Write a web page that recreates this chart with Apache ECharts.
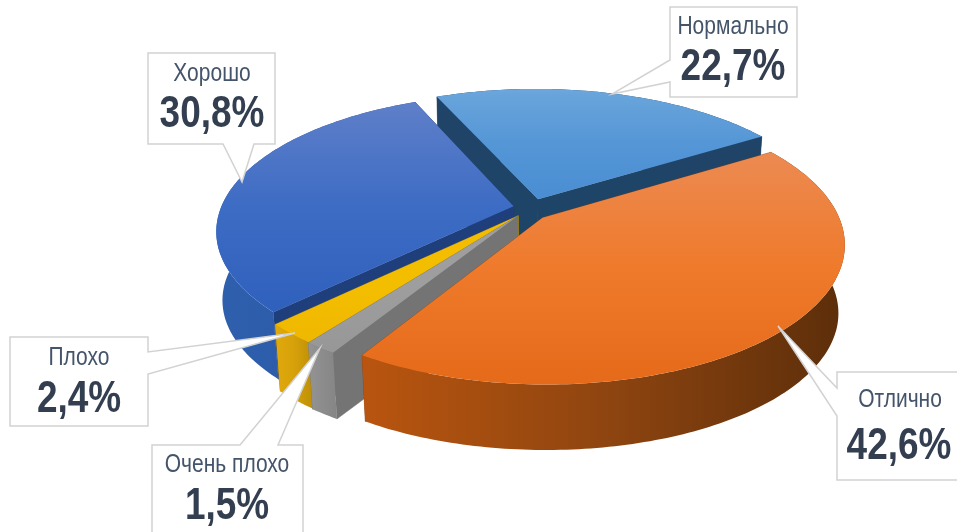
<!DOCTYPE html>
<html>
<head>
<meta charset="utf-8">
<script src="https://cdn.jsdelivr.net/npm/echarts@6/dist/echarts.min.js"></script>
<style>
  html, body { margin: 0; padding: 0; background: #fff; }
  #main { width: 957px; height: 532px; }
</style>
</head>
<body>
<div id="main"></div>
<script>
// pie order, clockwise
const categories = ["Отлично", "Очень плохо", "Плохо", "Хорошо", "Нормально"];
const values = [42.6, 1.5, 2.4, 30.8, 22.7];

// how far each slice is pulled out of the pie, in disc radii
const pullX = [0.059, -0.025, -0.023, -0.039, 0.045];
const pullY = [0.05, 0.037, 0.035, -0.035, -0.09];

const startAngle = 58.2; // degrees from 12 o'clock
const center = [525, 211];
const radiusX = 294;
const radiusY = 134;
const persp = 0.18; // near side of the disc looks bigger
const depth = 69;
const depthScale = 0.98;
const textSqueeze = 0.84; // the original uses a narrow face

const topColors = [
  ["#ec8a52", "#ef7a2b", "#e56a1a"],
  ["#9e9e9e", "#9e9e9e", "#979797"],
  ["#f2bb00", "#f4be00", "#efb800"],
  ["#5f7fc9", "#3d6cc4", "#2f60bc"],
  ["#6ba6dc", "#5496d6", "#4a8dd2"],
];
const sideColors = [
  ["#b9550f", "#8f4510", "#5c2e0a"],
  ["#949494", "#8c8c8c", "#858585"],
  ["#e0aa0c", "#d6a10a", "#bd8e06"],
  ["#2f60ae", "#2a5aa8", "#2353a0"],
  ["#1f4468", "#1f4468", "#1f4468"],
];
const cutColors = ["#8a420f", "#747474", "#b88a05", "#1f3f7c", "#1e4468"];

// callouts: box [x0, y0, x1, y1], side the pointer leaves from, its two ends, its tip
const callouts = [
  { box: [837, 372, 962, 480], side: "left", from: 388, to: 416, tip: [778, 326], nameAt: [900, 400], pctAt: [899, 447] },
  { box: [152, 445, 303, 540], side: "top", from: 240, to: 278, tip: [320, 348], nameAt: [227, 465], pctAt: [227, 507] },
  { box: [10, 337, 148, 426], side: "right", from: 352, to: 374, tip: [295, 333], nameAt: [79, 358], pctAt: [79, 400] },
  { box: [148, 53, 275, 144], side: "bottom", from: 223, to: 254, tip: [242, 182], nameAt: [212, 74], pctAt: [212, 115] },
  { box: [670, 7, 797, 97], side: "left", from: 60, to: 82, tip: [612, 94], nameAt: [733, 27], pctAt: [733, 68] },
];

const total = values.reduce((a, b) => a + b, 0);
const spans = values.map((v) => (v / total) * 360);

function formatPct(v) {
  return v.toFixed(1).replace(".", ",") + "%";
}

function project(u, v) {
  const w = 1 - persp * v;
  return [center[0] + (radiusX * u) / w, center[1] + (radiusY * v) / w];
}

function lower(p) {
  return [
    center[0] + (p[0] - center[0]) * depthScale,
    center[1] + (p[1] - center[1]) * depthScale + depth,
  ];
}

function sliceShapes(i) {
  const rad = Math.PI / 180;
  let a0 = startAngle;
  for (let k = 0; k < i; k++) a0 += spans[k];
  const a1 = a0 + spans[i];
  const apex = project(pullX[i], pullY[i]);
  const rim = [];
  const steps = Math.max(4, Math.ceil(spans[i]));
  for (let s = 0; s <= steps; s++) {
    const a = (a0 + ((a1 - a0) * s) / steps) * rad;
    rim.push(project(pullX[i] + Math.sin(a), pullY[i] - Math.cos(a)));
  }
  return { apex, rim };
}

function linear(stops, horizontal) {
  return new echarts.graphic.LinearGradient(0, 0, horizontal ? 1 : 0, horizontal ? 0 : 1, [
    { offset: 0, color: stops[0] },
    { offset: 0.5, color: stops[1] },
    { offset: 1, color: stops[2] },
  ]);
}

function poly(points, fill, stroke) {
  return {
    type: "polygon",
    shape: { points },
    style: { fill, stroke: stroke || fill, lineWidth: 0.5 },
  };
}

function renderSlice(params, api) {
  const i = api.value(0);
  const { apex, rim } = sliceShapes(i);
  const first = rim[0];
  const last = rim[rim.length - 1];
  const children = [];
  // cut faces first, the top face hides whichever one looks away
  children.push(poly([apex, last, lower(last), lower(apex)], cutColors[i]));
  children.push(poly([apex, first, lower(first), lower(apex)], cutColors[i]));
  // outer wall, only the part on the near side shows
  const wall = rim.concat(rim.slice().reverse().map(lower));
  children.push(poly(wall, linear(sideColors[i], true), "transparent"));
  children.push(poly([apex].concat(rim), linear(topColors[i], false), "transparent"));
  return { type: "group", children };
}

function calloutOutline(c) {
  const [x0, y0, x1, y1] = c.box;
  if (c.side === "left") {
    return [[x0, y0], [x1, y0], [x1, y1], [x0, y1], [x0, c.to], c.tip, [x0, c.from]];
  }
  if (c.side === "right") {
    return [[x0, y0], [x1, y0], [x1, c.from], c.tip, [x1, c.to], [x1, y1], [x0, y1]];
  }
  if (c.side === "top") {
    return [[x0, y0], [c.from, y0], c.tip, [c.to, y0], [x1, y0], [x1, y1], [x0, y1]];
  }
  return [[x0, y0], [x1, y0], [x1, y1], [c.to, y1], c.tip, [c.from, y1], [x0, y1]];
}

function squeezedText(text, at, fill, font) {
  return {
    type: "text",
    x: at[0],
    y: at[1],
    scaleX: textSqueeze,
    style: { text, x: 0, y: 0, fill, font, align: "center", verticalAlign: "middle" },
  };
}

function renderCallout(params, api) {
  const i = api.value(0);
  const c = callouts[i];
  return {
    type: "group",
    children: [
      {
        type: "polygon",
        shape: { points: calloutOutline(c) },
        style: { fill: "#fff", stroke: "#d2d2d2", lineWidth: 1.5 },
      },
      squeezedText(categories[i], c.nameAt, "#44546a", '25px "Liberation Sans", sans-serif'),
      squeezedText(formatPct(values[i]), c.pctAt, "#333f50", 'bold 44px "Liberation Sans", sans-serif'),
    ],
  };
}

const chart = echarts.init(document.getElementById("main"), null, { renderer: "canvas" });
const drawOrder = values.map((v, i) => [i]).reverse();

chart.setOption({
  animation: false,
  backgroundColor: "#fff",
  series: [
    {
      type: "custom",
      coordinateSystem: "none",
      renderItem: renderSlice,
      data: drawOrder,
      silent: true,
      z: 2,
    },
    {
      type: "custom",
      coordinateSystem: "none",
      renderItem: renderCallout,
      data: drawOrder,
      silent: true,
      z: 3,
    },
  ],
});
</script>
</body>
</html>
